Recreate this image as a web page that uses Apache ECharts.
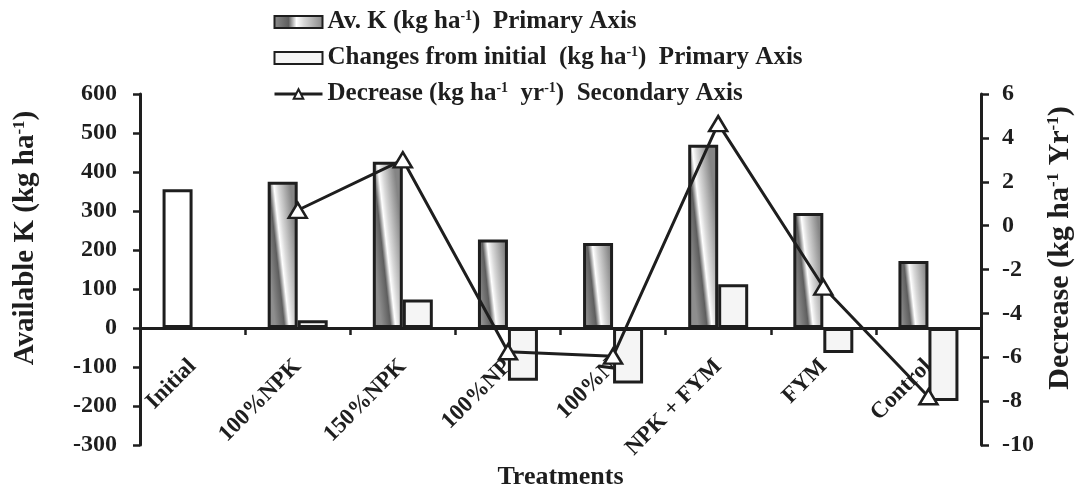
<!DOCTYPE html>
<html>
<head>
<meta charset="utf-8">
<script src="https://cdn.jsdelivr.net/npm/echarts@6/dist/echarts.min.js"></script>
<style>
  html, body { margin: 0; padding: 0; background: #ffffff; }
  #chart { width: 1075px; height: 488px; }
</style>
</head>
<body>
<div id="chart"></div>
<script>
// ---- data ----
const categories = ['Initial', '100%NPK', '150%NPK', '100%NP', '100%N', 'NPK + FYM', 'FYM', 'Control'];
const availableK = [356, 375, 426, 227, 218, 470, 295, 172];          // kg ha-1 (primary axis)
const changesFromInitial = ['-', 20, 73, -135, -142, 112, -64, -187];  // kg ha-1 (primary axis)
const decreaseRate = ['-', 0.7, 3.0, -5.75, -5.95, 4.65, -2.8, -7.8];  // kg ha-1 yr-1 (secondary axis)
const primaryTicks = [-300, -200, -100, 0, 100, 200, 300, 400, 500, 600];
const secondaryTicks = [-10, -8, -6, -4, -2, 0, 2, 4, 6];

const seriesNames = ['Av. K', 'Changes from initial', 'Decrease'];
const legendTexts = {
  'Av. K': 'Av. K (kg ha{s|-1})  Primary Axis',
  'Changes from initial': 'Changes from initial  (kg ha{s|-1})  Primary Axis',
  'Decrease': 'Decrease (kg ha{s|-1}  yr{s|-1})  Secondary Axis'
};

const FONT = 'Liberation Serif';
const INK = '#1e1e1e';
const BAR_W = 30;
const gradStops = [
  { offset: 0, color: '#8e8e8e' },
  { offset: 0.3, color: '#5e5e5e' },
  { offset: 0.46, color: '#ffffff' },
  { offset: 0.6, color: '#d9d9d9' },
  { offset: 1, color: '#858585' }
];
function gradientFor(h) {
  const s = 0.11;
  const d = h > 0 ? s * BAR_W / (2 * h) : 0;
  return new echarts.graphic.LinearGradient(0, 0.5 + d, 1, 0.5 - d, gradStops);
}

function supRich(size) {
  return {
    s: { fontFamily: FONT, fontWeight: 'bold', fontSize: size, color: INK, verticalAlign: 'top', lineHeight: size }
  };
}

const chart = echarts.init(document.getElementById('chart'));
const option = {
  backgroundColor: '#ffffff',
  animation: false,
  grid: { left: 140, right: 94, top: 94, bottom: 43, containLabel: false, outerBoundsMode: 'none' },
  legend: {
    orient: 'vertical',
    left: 268,
    top: 4,
    itemWidth: 48,
    itemHeight: 12,
    itemGap: 10,
    selectedMode: false,
    data: [
      { name: seriesNames[0], icon: 'rect' },
      { name: seriesNames[1], icon: 'rect' },
      { name: seriesNames[2], lineStyle: { color: INK, width: 3 } }
    ],
    formatter: name => legendTexts[name],
    textStyle: {
      fontFamily: FONT, fontWeight: 'bold', fontSize: 25, color: INK, lineHeight: 26,
      rich: supRich(14)
    }
  },
  xAxis: {
    type: 'category',
    data: categories,
    name: 'Treatments',
    nameLocation: 'middle',
    nameGap: 19,
    nameMoveOverlap: false,
    nameTextStyle: { fontFamily: FONT, fontWeight: 'bold', fontSize: 26, color: INK },
    axisLine: { onZero: true, onZeroAxisIndex: 0, lineStyle: { color: INK, width: 3 } },
    axisTick: { show: true, length: 7, lineStyle: { color: INK, width: 2.5 } },
    axisLabel: {
      interval: 0, rotate: 45, margin: -82,
      fontFamily: FONT, fontWeight: 'bold', fontSize: 23, color: INK
    },
    splitLine: { show: false }
  },
  yAxis: [
    {
      type: 'value',
      position: 'left',
      min: primaryTicks[0],
      max: primaryTicks[primaryTicks.length - 1],
      interval: primaryTicks[1] - primaryTicks[0],
      name: 'Available K (kg ha{s|-1})',
      nameLocation: 'middle',
      nameRotate: 90,
      nameGap: 100,
      nameTextStyle: {
        fontFamily: FONT, fontWeight: 'bold', fontSize: 29, color: INK,
        padding: [0, 0, 0, 63], rich: supRich(17)
      },
      axisLine: { show: true, lineStyle: { color: INK, width: 3 } },
      axisTick: { show: true, length: 7, lineStyle: { color: INK, width: 2.5 } },
      axisLabel: { margin: 23, fontFamily: FONT, fontWeight: 'bold', fontSize: 24, color: INK },
      splitLine: { show: false }
    },
    {
      type: 'value',
      position: 'right',
      min: secondaryTicks[0],
      max: secondaryTicks[secondaryTicks.length - 1],
      interval: secondaryTicks[1] - secondaryTicks[0],
      name: 'Decrease (kg ha{s|-1} Yr{s|-1})',
      nameLocation: 'middle',
      nameRotate: 90,
      nameGap: 64,
      nameTextStyle: {
        fontFamily: FONT, fontWeight: 'bold', fontSize: 30, color: INK,
        padding: [0, 0, 0, 43], rich: supRich(17)
      },
      axisLine: { show: true, lineStyle: { color: INK, width: 3 } },
      axisTick: { show: true, length: 8, lineStyle: { color: INK, width: 2.5 } },
      axisLabel: { margin: 21, fontFamily: FONT, fontWeight: 'bold', fontSize: 24, color: INK },
      splitLine: { show: false }
    }
  ],
  series: [
    {
      id: 'avk',
      name: seriesNames[0],
      type: 'bar',
      yAxisIndex: 0,
      barWidth: BAR_W,
      barGap: '0%',
      z: 3,
      itemStyle: {
        color: new echarts.graphic.LinearGradient(0, 0.5, 1, 0.5, gradStops),
        borderColor: INK, borderWidth: 3
      },
      data: availableK.map(v => ({ value: v }))
    },
    {
      id: 'chg',
      name: seriesNames[1],
      type: 'bar',
      yAxisIndex: 0,
      barWidth: BAR_W,
      barGap: '0%',
      z: 3,
      itemStyle: { color: '#f5f5f5', borderColor: INK, borderWidth: 3 },
      data: changesFromInitial
    },
    {
      id: 'dec',
      name: seriesNames[2],
      type: 'line',
      yAxisIndex: 1,
      z: 5,
      symbol: 'triangle',
      symbolSize: [18, 15],
      connectNulls: false,
      lineStyle: { color: INK, width: 3 },
      itemStyle: { color: '#ffffff', borderColor: INK, borderWidth: 2.5 },
      data: decreaseRate
    }
  ]
};
chart.setOption(option);

// per-bar diagonal gradient, sized from each bar's pixel height via the axis scale
const zeroPx = chart.convertToPixel({ yAxisIndex: 0 }, 0);
const avkData = availableK.map((v, i) => {
  const h = Math.abs(zeroPx - chart.convertToPixel({ yAxisIndex: 0 }, v));
  const style = i === 0
    ? { color: '#ffffff', borderColor: INK, borderWidth: 3 }
    : { color: gradientFor(h), borderColor: INK, borderWidth: 3 };
  return { value: v, itemStyle: style };
});
chart.setOption({ series: [{ id: 'avk', data: avkData }] });
</script>
</body>
</html>
